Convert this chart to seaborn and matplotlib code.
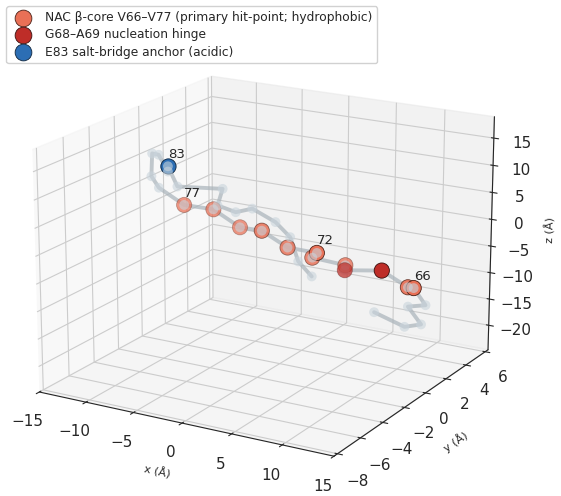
import matplotlib
matplotlib.use("Agg")
import matplotlib.pyplot as plt
import seaborn as sns

# C-alpha trace, residues 61-92 (coordinates in Angstrom)
residues = list(range(61, 93))
x_ca = [6.5, 10.7, 13.4, 10.5, 13.3, 12.6, 11.5, 9.9, 6.7, 5.1, 2.8, 4.4, 0.8, -1.3, -4.2, -6.4,
        -8.9, -11.6, -12.4, -13.6, -14.2, -11.9, -9.3, -9.6, -8.5, -10.3, -7.7, -7.1, -4.0, -3.0, -2.7, -0.1]
y_ca = [3, 2, 1, 2.5, 1.5, 1, 1.5, 0.5, 0, 1.5, 0.5, -0.5, 0, -0.5, 0, -0.5,
        -1, -1, -1, 0, 1, 0, -2, -1, 2, 3, 2.5, 3.5, 3, 3.5, 4, 3]
z_ca = [-16.4, -16.5, -13.9, -13.4, -11.0, -7.5, -8.3, -4.6, -5.0, -6.3, -4.5, -2.0, -2.7, 0.3, -0.5, 2.7,
        3.3, 5.7, 7.6, 10.5, 9.1, 7.6, 11.3, 6.5, 3.3, -1.4, -1.4, -1.6, -2.7, -5.8, -10.9, -11.8]

nac_core = list(range(66, 78))
hinge = [68, 69]
anchor = [83]
labelled = [66, 72, 77, 83]

sns.set_style("white")
plt.rcParams["font.family"] = ["DejaVu Sans"]

core_col = "#e97056"
hinge_col = "#be2d28"
anchor_col = "#2c6eb4"


def pick(ids):
    idx = [residues.index(r) for r in ids]
    return [x_ca[i] for i in idx], [y_ca[i] for i in idx], [z_ca[i] for i in idx]


def highlight(ax, ids, col, edge, label):
    px, py, pz = pick(ids)
    # flat under-layer keeps far points from fading out completely
    ax.scatter(px, py, pz, s=120, color=col, alpha=0.6, edgecolors="none", depthshade=False)
    return ax.scatter(px, py, pz, s=120, color=col, edgecolors=edge, linewidths=0.6, label=label)


fig = plt.figure(figsize=(5.61, 4.96), dpi=100)
ax = fig.add_axes([-0.043, -0.014, 1.02, 0.98], projection="3d")

# backbone
ax.plot(x_ca, y_ca, z_ca, color="#a9b3ba", lw=2.8, alpha=0.7)
ax.scatter(x_ca, y_ca, z_ca, s=50, color="#c9d4dc", alpha=0.6, edgecolors="none")

core_only = [r for r in nac_core if r not in hinge]
h1 = highlight(ax, core_only, core_col, "#4a2218", "NAC β-core V66–V77 (primary hit-point; hydrophobic)")
h2 = highlight(ax, hinge, hinge_col, "#3a1210", "G68–A69 nucleation hinge")
h3 = highlight(ax, anchor, anchor_col, "#10263d", "E83 salt-bridge anchor (acidic)")

for r in labelled:
    lx, ly, lz = pick([r])
    ax.text(lx[0], ly[0], lz[0] + 1.0, str(r), fontsize=9.5, ha="left", va="bottom")

ax.set_xlim(-15, 15)
ax.set_ylim(-8.3, 6.3)
ax.set_zlim(-24.7, 18.9)
ax.set_xticks([-15, -10, -5, 0, 5, 10, 15])
ax.set_yticks([-8, -6, -4, -2, 0, 2, 4, 6])
ax.set_zticks([-20, -15, -10, -5, 0, 5, 10, 15])
ax.tick_params(labelsize=11)
ax.set_xlabel("x (Å)", fontsize=8)
ax.set_ylabel("y (Å)", fontsize=8)
ax.set_zlabel("z (Å)", fontsize=8)
ax.grid(True)
ax.view_init(elev=18, azim=-60)
ax.set_box_aspect(None, zoom=1.065)

fig.legend(handles=[h1, h2, h3], loc="upper left", bbox_to_anchor=(0.0, 1.0), fontsize=8.8,
           markerscale=1.1, labelspacing=0.35, framealpha=0.9)

fig.savefig("out.png", dpi=100)
